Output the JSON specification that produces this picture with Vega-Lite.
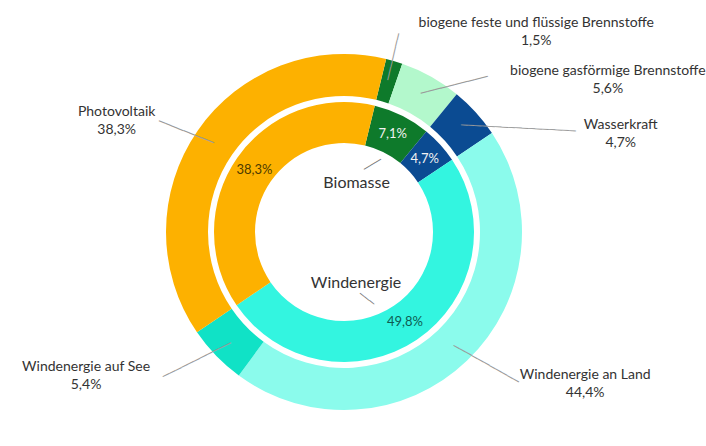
{
  "$schema": "https://vega.github.io/schema/vega-lite/v6.json",
  "autosize": {"type": "none"},
  "width": 688,
  "height": 428,
  "padding": {"left": 0, "top": 18, "right": 18, "bottom": 0},
  "background": "white",
  "config": {"view": {"stroke": null}, "text": {"font": "Lato", "fontSize": 14, "color": "#333333"}},
  "datasets": {
    "outer": [
      {"key": "biogene feste und flüssige Brennstoffe", "pct": "1,5%", "value": 1.5, "nr": 1},
      {"key": "biogene gasförmige Brennstoffe", "pct": "5,6%", "value": 5.6, "nr": 2},
      {"key": "Wasserkraft", "pct": "4,7%", "value": 4.7, "nr": 3},
      {"key": "Windenergie an Land", "pct": "44,4%", "value": 44.4, "nr": 4},
      {"key": "Windenergie auf See", "pct": "5,4%", "value": 5.4, "nr": 5},
      {"key": "Photovoltaik", "pct": "38,3%", "value": 38.3, "nr": 6}
    ],
    "inner": [
      {"key": "Biomasse", "pct": "7,1%", "value": 7.1, "nr": 1},
      {"key": "Wasserkraft", "pct": "4,7%", "value": 4.7, "nr": 2},
      {"key": "Windenergie", "pct": "49,8%", "value": 49.8, "nr": 3},
      {"key": "Photovoltaik", "pct": "38,3%", "value": 38.3, "nr": 4}
    ]
  },
  "layer": [
    {
      "data": {"name": "outer"},
      "mark": {"type": "arc", "radius": 178, "radius2": 136},
      "encoding": {
        "theta": {"field": "value", "type": "quantitative", "stack": true,
          "scale": {"domain": [0, 99.9], "range": [0.2391, 6.5223], "nice": false, "zero": true}},
        "order": {"field": "nr", "type": "quantitative"},
        "color": {"field": "key", "type": "nominal", "legend": null,
          "scale": {
            "domain": ["biogene feste und flüssige Brennstoffe", "biogene gasförmige Brennstoffe", "Wasserkraft", "Windenergie an Land", "Windenergie auf See", "Photovoltaik", "Biomasse", "Windenergie"],
            "range": ["#0E7A2B", "#B3F8CC", "#0B4B92", "#8BFBEC", "#10E2C6", "#FDB100", "#0E7A2B", "#33F5E0"]}}
      }
    },
    {
      "data": {"name": "inner"},
      "mark": {"type": "arc", "radius": 130, "radius2": 89},
      "encoding": {
        "theta": {"field": "value", "type": "quantitative", "stack": true},
        "order": {"field": "nr", "type": "quantitative"},
        "color": {"field": "key", "type": "nominal", "legend": null}
      }
    },
    {
      "data": {"name": "inner"},
      "mark": {"type": "text", "radius": 109, "fontSize": 13, "align": "center", "baseline": "middle"},
      "encoding": {
        "theta": {"field": "value", "type": "quantitative", "stack": true},
        "order": {"field": "nr", "type": "quantitative"},
        "detail": {"field": "key", "type": "nominal"},
        "text": {"field": "pct", "type": "nominal"},
        "color": {"condition": [
          {"test": "datum.key == 'Photovoltaik'", "value": "#4d3b00"},
          {"test": "datum.key == 'Windenergie'", "value": "#0e5c52"}], "value": "#f2f2f2"}
      }
    },
    {
      "data": {"name": "outer"},
      "transform": [
        {"stack": "value", "groupby": [], "sort": [{"field": "nr", "order": "ascending"}], "as": ["t0", "t1"]},
        {"calculate": "(datum.t0 + datum.t1) / 2", "as": "mid"},
        {"calculate": "datum.key + '\\n' + datum.pct", "as": "lines"},
        {"filter": "datum.key == 'biogene feste und flüssige Brennstoffe'"}
      ],
      "mark": {"type": "text", "radius": 178, "dx": 142, "dy": -38, "align": "center", "baseline": "middle", "lineBreak": "\n", "lineHeight": 18},
      "encoding": {"theta": {"field": "mid", "type": "quantitative"}, "text": {"field": "lines", "type": "nominal"}}
    },
    {
      "data": {"name": "outer"},
      "transform": [
        {"stack": "value", "groupby": [], "sort": [{"field": "nr", "order": "ascending"}], "as": ["t0", "t1"]},
        {"calculate": "(datum.t0 + datum.t1) / 2", "as": "mid"},
        {"calculate": "datum.key + '\\n' + datum.pct", "as": "lines"},
        {"filter": "datum.key == 'biogene gasförmige Brennstoffe'"}
      ],
      "mark": {"type": "text", "radius": 178, "dx": 177, "dy": -6, "align": "center", "baseline": "middle", "lineBreak": "\n", "lineHeight": 18},
      "encoding": {"theta": {"field": "mid", "type": "quantitative"}, "text": {"field": "lines", "type": "nominal"}}
    },
    {
      "data": {"name": "outer"},
      "transform": [
        {"stack": "value", "groupby": [], "sort": [{"field": "nr", "order": "ascending"}], "as": ["t0", "t1"]},
        {"calculate": "(datum.t0 + datum.t1) / 2", "as": "mid"},
        {"calculate": "datum.key + '\\n' + datum.pct", "as": "lines"},
        {"filter": "datum.key == 'Wasserkraft'"}
      ],
      "mark": {"type": "text", "radius": 178, "dx": 145, "dy": 13, "align": "center", "baseline": "middle", "lineBreak": "\n", "lineHeight": 18},
      "encoding": {"theta": {"field": "mid", "type": "quantitative"}, "text": {"field": "lines", "type": "nominal"}}
    },
    {
      "data": {"name": "outer"},
      "transform": [
        {"stack": "value", "groupby": [], "sort": [{"field": "nr", "order": "ascending"}], "as": ["t0", "t1"]},
        {"calculate": "(datum.t0 + datum.t1) / 2", "as": "mid"},
        {"calculate": "datum.key + '\\n' + datum.pct", "as": "lines"},
        {"filter": "datum.key == 'Windenergie an Land'"}
      ],
      "mark": {"type": "text", "radius": 178, "dx": 118, "dy": 14, "align": "center", "baseline": "middle", "lineBreak": "\n", "lineHeight": 18},
      "encoding": {"theta": {"field": "mid", "type": "quantitative"}, "text": {"field": "lines", "type": "nominal"}}
    },
    {
      "data": {"name": "outer"},
      "transform": [
        {"stack": "value", "groupby": [], "sort": [{"field": "nr", "order": "ascending"}], "as": ["t0", "t1"]},
        {"calculate": "(datum.t0 + datum.t1) / 2", "as": "mid"},
        {"calculate": "datum.key + '\\n' + datum.pct", "as": "lines"},
        {"filter": "datum.key == 'Windenergie auf See'"}
      ],
      "mark": {"type": "text", "radius": 178, "dx": -130, "dy": 11, "align": "center", "baseline": "middle", "lineBreak": "\n", "lineHeight": 18},
      "encoding": {"theta": {"field": "mid", "type": "quantitative"}, "text": {"field": "lines", "type": "nominal"}}
    },
    {
      "data": {"name": "outer"},
      "transform": [
        {"stack": "value", "groupby": [], "sort": [{"field": "nr", "order": "ascending"}], "as": ["t0", "t1"]},
        {"calculate": "(datum.t0 + datum.t1) / 2", "as": "mid"},
        {"calculate": "datum.key + '\\n' + datum.pct", "as": "lines"},
        {"filter": "datum.key == 'Photovoltaik'"}
      ],
      "mark": {"type": "text", "radius": 178, "dx": -81, "dy": -19, "align": "center", "baseline": "middle", "lineBreak": "\n", "lineHeight": 18},
      "encoding": {"theta": {"field": "mid", "type": "quantitative"}, "text": {"field": "lines", "type": "nominal"}}
    },
    {
      "data": {"name": "inner"},
      "transform": [
        {"stack": "value", "groupby": [], "sort": [{"field": "nr", "order": "ascending"}], "as": ["t0", "t1"]},
        {"calculate": "(datum.t0 + datum.t1) / 2", "as": "mid"},
        {"filter": "datum.key == 'Biomasse'"}
      ],
      "mark": {"type": "text", "radius": 109, "dx": -36, "dy": 49, "align": "center", "baseline": "middle", "fontSize": 16},
      "encoding": {"theta": {"field": "mid", "type": "quantitative"}, "text": {"field": "key", "type": "nominal"}}
    },
    {
      "data": {"name": "inner"},
      "transform": [
        {"stack": "value", "groupby": [], "sort": [{"field": "nr", "order": "ascending"}], "as": ["t0", "t1"]},
        {"calculate": "(datum.t0 + datum.t1) / 2", "as": "mid"},
        {"filter": "datum.key == 'Windenergie'"}
      ],
      "mark": {"type": "text", "radius": 109, "dx": -49, "dy": -39, "align": "center", "baseline": "middle", "fontSize": 16},
      "encoding": {"theta": {"field": "mid", "type": "quantitative"}, "text": {"field": "key", "type": "nominal"}}
    },
    {
      "data": {"name": "outer"},
      "transform": [
        {"stack": "value", "groupby": [], "sort": [{"field": "nr", "order": "ascending"}], "as": ["t0", "t1"]},
        {"calculate": "(datum.t0 + datum.t1) / 2", "as": "mid"},
        {"filter": "datum.key == 'biogene feste und flüssige Brennstoffe'"}
      ],
      "mark": {"type": "text", "radius": 158, "angle": -76.8, "align": "left", "baseline": "middle", "font": "DejaVu Sans Mono", "fontSize": 11.39, "color": "#9a9a9a", "text": "───────"},
      "encoding": {"theta": {"field": "mid", "type": "quantitative"}}
    },
    {
      "data": {"name": "outer"},
      "transform": [
        {"stack": "value", "groupby": [], "sort": [{"field": "nr", "order": "ascending"}], "as": ["t0", "t1"]},
        {"calculate": "(datum.t0 + datum.t1) / 2", "as": "mid"},
        {"filter": "datum.key == 'biogene gasförmige Brennstoffe'"}
      ],
      "mark": {"type": "text", "radius": 158, "angle": -14.2, "align": "left", "baseline": "middle", "font": "DejaVu Sans Mono", "fontSize": 11.46, "color": "#9a9a9a", "text": "──────────"},
      "encoding": {"theta": {"field": "mid", "type": "quantitative"}}
    },
    {
      "data": {"name": "outer"},
      "transform": [
        {"stack": "value", "groupby": [], "sort": [{"field": "nr", "order": "ascending"}], "as": ["t0", "t1"]},
        {"calculate": "(datum.t0 + datum.t1) / 2", "as": "mid"},
        {"filter": "datum.key == 'Wasserkraft'"}
      ],
      "mark": {"type": "text", "radius": 158, "angle": 3, "align": "left", "baseline": "middle", "font": "DejaVu Sans Mono", "fontSize": 11.24, "color": "#9a9a9a", "text": "─────────────────"},
      "encoding": {"theta": {"field": "mid", "type": "quantitative"}}
    },
    {
      "data": {"name": "outer"},
      "transform": [
        {"stack": "value", "groupby": [], "sort": [{"field": "nr", "order": "ascending"}], "as": ["t0", "t1"]},
        {"calculate": "(datum.t0 + datum.t1) / 2", "as": "mid"},
        {"filter": "datum.key == 'Windenergie an Land'"}
      ],
      "mark": {"type": "text", "radius": 158, "angle": 29.4, "align": "left", "baseline": "middle", "font": "DejaVu Sans Mono", "fontSize": 11.27, "color": "#9a9a9a", "text": "───────────"},
      "encoding": {"theta": {"field": "mid", "type": "quantitative"}}
    },
    {
      "data": {"name": "outer"},
      "transform": [
        {"stack": "value", "groupby": [], "sort": [{"field": "nr", "order": "ascending"}], "as": ["t0", "t1"]},
        {"calculate": "(datum.t0 + datum.t1) / 2", "as": "mid"},
        {"filter": "datum.key == 'Windenergie auf See'"}
      ],
      "mark": {"type": "text", "radius": 158, "angle": 153.4, "align": "left", "baseline": "middle", "font": "DejaVu Sans Mono", "fontSize": 11.48, "color": "#9a9a9a", "text": "───────────"},
      "encoding": {"theta": {"field": "mid", "type": "quantitative"}}
    },
    {
      "data": {"name": "outer"},
      "transform": [
        {"stack": "value", "groupby": [], "sort": [{"field": "nr", "order": "ascending"}], "as": ["t0", "t1"]},
        {"calculate": "(datum.t0 + datum.t1) / 2", "as": "mid"},
        {"filter": "datum.key == 'Photovoltaik'"}
      ],
      "mark": {"type": "text", "radius": 158, "angle": 201.8, "align": "left", "baseline": "middle", "font": "DejaVu Sans Mono", "fontSize": 10.89, "color": "#9a9a9a", "text": "─────────"},
      "encoding": {"theta": {"field": "mid", "type": "quantitative"}}
    },
    {
      "data": {"name": "inner"},
      "transform": [
        {"stack": "value", "groupby": [], "sort": [{"field": "nr", "order": "ascending"}], "as": ["t0", "t1"]},
        {"calculate": "(datum.t0 + datum.t1) / 2", "as": "mid"},
        {"filter": "datum.key == 'Biomasse'"}
      ],
      "mark": {"type": "text", "radius": 82, "angle": 149.5, "align": "left", "baseline": "middle", "font": "DejaVu Sans Mono", "fontSize": 10.9, "color": "#7a7a7a", "text": "───"},
      "encoding": {"theta": {"field": "mid", "type": "quantitative"}}
    },
    {
      "data": {"name": "inner"},
      "transform": [
        {"stack": "value", "groupby": [], "sort": [{"field": "nr", "order": "ascending"}], "as": ["t0", "t1"]},
        {"calculate": "(datum.t0 + datum.t1) / 2", "as": "mid"},
        {"filter": "datum.key == 'Windenergie'"}
      ],
      "mark": {"type": "text", "radius": 78, "angle": 218.2, "dx": 6, "dy": -14, "align": "left", "baseline": "middle", "font": "DejaVu Sans Mono", "fontSize": 9.86, "color": "#7a7a7a", "text": "───"},
      "encoding": {"theta": {"field": "mid", "type": "quantitative"}}
    }
  ]
}
